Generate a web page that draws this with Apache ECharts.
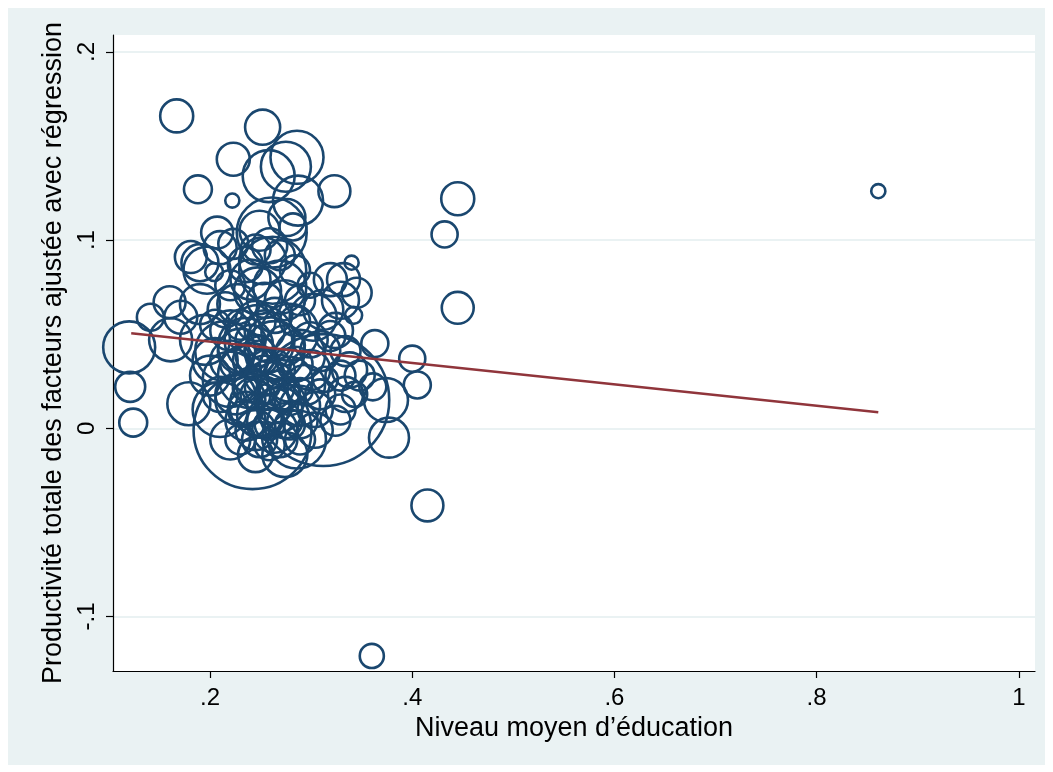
<!DOCTYPE html>
<html>
<head>
<meta charset="utf-8">
<script src="https://cdn.jsdelivr.net/npm/echarts@6/dist/echarts.min.js"></script>
<style>
  html, body { margin: 0; padding: 0; background: #ffffff; }
  #panel { position: absolute; left: 8px; top: 8px; width: 1037px; height: 757px; background: #EAF2F3; }
  #chart { position: absolute; left: 0; top: 0; width: 1053px; height: 772px; }
</style>
</head>
<body>
<div id="panel"></div>
<div id="chart"></div>
<script>
// Niveau moyen d'éducation (x), PTF ajustée (y), poids de l'observation (taille du cercle)
const educ = [
  0.167, 0.252, 0.223, 0.286, 0.275, 0.258, 0.188, 0.222, 0.287, 0.323,
  0.445, 0.432, 0.861, 0.276, 0.282, 0.207, 0.261, 0.223, 0.181, 0.197,
  0.204, 0.340, 0.445, 0.160, 0.141, 0.171, 0.120, 0.161, 0.332, 0.345,
  0.342, 0.363, 0.400, 0.405, 0.377, 0.374, 0.121, 0.124, 0.179, 0.242,
  0.312, 0.286, 0.360, 0.415, 0.361, 0.312, 0.190, 0.210, 0.252, 0.262,
  0.247, 0.269, 0.319, 0.329, 0.302, 0.190, 0.227, 0.279, 0.215, 0.235,
  0.249, 0.264, 0.289, 0.220, 0.240, 0.259, 0.279, 0.299, 0.230, 0.249,
  0.269, 0.289, 0.254, 0.245, 0.235, 0.264, 0.249, 0.210, 0.205, 0.195,
  0.220, 0.309, 0.319, 0.299, 0.284, 0.264, 0.245, 0.230, 0.254, 0.269,
  0.240, 0.225, 0.274, 0.289, 0.254, 0.235, 0.259, 0.279, 0.220, 0.304,
  0.324, 0.334, 0.329, 0.314, 0.274, 0.245, 0.240, 0.254, 0.274, 0.259,
  0.245, 0.269, 0.235, 0.284, 0.289, 0.299, 0.220, 0.215, 0.205, 0.249,
  0.324, 0.334, 0.338, 0.343, 0.329, 0.348, 0.230, 0.245, 0.259, 0.274,
  0.254, 0.269, 0.240, 0.225, 0.249, 0.264, 0.279, 0.235, 0.245, 0.259,
  0.274, 0.289, 0.294, 0.284, 0.220, 0.210, 0.200, 0.249, 0.264, 0.240,
  0.254, 0.230, 0.269, 0.289, 0.304, 0.309
];
const ptf = [
  0.166, 0.160, 0.143, 0.144, 0.139, 0.134, 0.127, 0.121, 0.121, 0.126,
  0.122, 0.103, 0.126, 0.112, 0.107, 0.104, 0.104, 0.098, 0.091, 0.084,
  0.083, 0.088, 0.064, 0.067, 0.059, 0.059, 0.043, 0.047, 0.079, 0.072,
  0.060, 0.045, 0.037, 0.023, -0.005, 0.015, 0.022, 0.003, 0.013, -0.001,
  0.015, -0.006, -0.121, -0.041, 0.022, 0.063, 0.088, 0.096, 0.089, 0.084,
  0.073, 0.075, 0.079, 0.068, 0.059, 0.066, 0.066, 0.051, 0.041, 0.044,
  0.047, 0.041, 0.039, 0.026, 0.028, 0.023, 0.026, 0.031, 0.015, 0.012,
  0.010, 0.012, 0.004, 0.018, 0.004, -0.001, -0.006, 0.010, 0.036, 0.047,
  0.052, 0.041, 0.049, 0.047, 0.057, 0.060, 0.057, 0.055, 0.036, 0.031,
  0.036, 0.034, 0.018, 0.020, 0.018, 0.021, -0.009, 0.002, -0.006, -0.001,
  0.004, 0.018, 0.028, 0.026, -0.014, -0.014, 0.079, 0.068, 0.068, 0.097,
  0.095, 0.092, 0.087, 0.084, 0.068, 0.076, 0.076, 0.063, 0.055, 0.105,
  0.052, 0.041, 0.031, 0.018, 0.010, 0.028, 0.041, 0.039, 0.047, 0.044,
  0.028, 0.020, 0.023, 0.018, 0.007, 0.012, 0.015, 0.010, -0.001, 0.002,
  0.004, 0.004, 0.023, 0.034, 0.036, 0.018, 0.028, 0.041, 0.034, 0.047,
  0.052, -0.006, -0.006, -0.006, 0.010, 0.018
];
const poids = [
  10.9, 12.3, 10.9, 28.1, 25.0, 27.0, 7.8, 2.0, 25.0, 10.2,
  10.9, 6.8, 2.0, 13.7, 7.3, 10.2, 49.0, 9.0, 10.2, 22.1,
  3.2, 2.0, 10.2, 10.2, 7.3, 10.9, 27.0, 18.5, 10.9, 9.0,
  2.9, 7.3, 6.8, 7.3, 16.0, 19.4, 9.0, 7.8, 18.5, 139.0,
  174.0, 33.6, 5.8, 10.2, 7.3, 16.0, 13.7, 10.9, 22.1, 44.9,
  22.1, 28.1, 10.9, 13.7, 22.1, 16.0, 16.0, 32.5, 36.0, 30.3,
  49.0, 36.0, 25.0, 30.3, 42.3, 25.0, 20.3, 16.0, 25.0, 36.0,
  20.3, 16.0, 12.3, 9.0, 16.0, 20.3, 12.3, 30.3, 20.3, 25.0,
  16.0, 16.0, 9.0, 12.3, 9.0, 12.3, 16.0, 9.0, 6.3, 9.0,
  12.3, 9.0, 9.0, 6.3, 4.0, 6.3, 9.0, 9.0, 16.0, 12.3,
  9.0, 12.3, 9.0, 6.3, 20.3, 12.3, 16.0, 12.3, 16.0, 12.3,
  9.0, 9.0, 12.3, 9.0, 9.0, 6.3, 9.0, 12.3, 9.0, 16.0,
  12.3, 9.0, 12.3, 6.3, 9.0, 9.0, 20.3, 16.0, 20.3, 16.0,
  16.0, 16.0, 12.3, 16.0, 20.3, 12.3, 9.0, 12.3, 16.0, 9.0,
  12.3, 12.3, 16.0, 12.3, 16.0, 12.3, 16.0, 9.0, 9.0, 9.0,
  16.0, 9.0, 12.3, 9.0, 12.3, 9.0
];
// Droite de régression (valeurs ajustées aux extrémités)
const regX = [0.122, 0.861];
const regY = [0.0505, 0.0085];

const xTicks = [0.2, 0.4, 0.6, 0.8, 1];
const yTicks = [-0.1, 0, 0.1, 0.2];

const fmt = v => {
  const s = String(+Number(v).toFixed(3));
  return s.replace(/^(-?)0\./, '$1.');
};

const points = educ.map((x, i) => [x, ptf[i], poids[i]]);
const regLine = regX.map((x, i) => [x, regY[i]]);

const FONT = 'Liberation Sans, Arial, sans-serif';
const chart = echarts.init(document.getElementById('chart'), null, { renderer: 'canvas' });
chart.setOption({
  backgroundColor: 'transparent',
  animation: false,
  grid: {
    left: 113, right: 18, top: 35, bottom: 101,
    show: true, backgroundColor: '#ffffff', borderWidth: 0
  },
  xAxis: {
    type: 'value',
    min: 0.104, max: 1.016,
    name: 'Niveau moyen d’éducation',
    nameLocation: 'middle',
    nameGap: 44,
    nameTextStyle: { fontFamily: FONT, fontSize: 27, color: '#000' },
    axisLine: { show: true, onZero: false, lineStyle: { color: '#000', width: 1.2 } },
    axisTick: { show: true, length: 7, inside: false, customValues: xTicks, lineStyle: { color: '#000', width: 1.2 } },
    axisLabel: { customValues: xTicks, formatter: fmt, margin: 15, fontFamily: FONT, fontSize: 24, color: '#000' },
    splitLine: { show: false }
  },
  yAxis: {
    type: 'value',
    min: -0.129, max: 0.209,
    name: 'Productivité totale des facteurs ajustée avec régression',
    nameLocation: 'middle',
    nameGap: 42,
    nameRotate: 90,
    nameTextStyle: { fontFamily: FONT, fontSize: 27, color: '#000' },
    axisLine: { show: true, onZero: false, lineStyle: { color: '#000', width: 1.2 } },
    axisTick: { show: true, length: 7, inside: false, customValues: yTicks, lineStyle: { color: '#000', width: 1.2 } },
    axisLabel: { customValues: yTicks, formatter: fmt, rotate: 90, margin: 14, fontFamily: FONT, fontSize: 24, color: '#000' },
    splitLine: { show: true, lineStyle: { color: '#EAF2F3', width: 2 } }
  },
  series: [
    {
      type: 'scatter',
      data: points,
      symbol: 'circle',
      symbolSize: v => 10 * Math.sqrt(v[2]),
      itemStyle: { color: 'rgba(0,0,0,0)', borderColor: '#1A476F', borderWidth: 2.6, opacity: 1 },
      z: 2
    },
    {
      type: 'line',
      data: regLine,
      showSymbol: false,
      symbol: 'none',
      lineStyle: { color: '#90353B', width: 2.5, opacity: 1 },
      z: 3
    }
  ]
});
</script>
</body>
</html>
